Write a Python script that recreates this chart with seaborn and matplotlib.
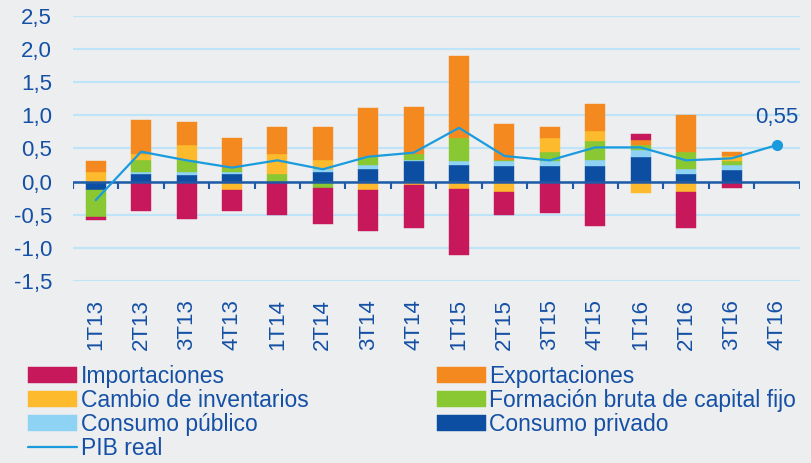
import numpy as np
import pandas as pd
import matplotlib.pyplot as plt
import seaborn as sns

# Trimestres (eje x) y contribuciones al crecimiento del PIB (pp)
trimestres = ["1T13", "2T13", "3T13", "4T13", "1T14", "2T14", "3T14", "4T14",
              "1T15", "2T15", "3T15", "4T15", "1T16", "2T16", "3T16", "4T16"]

consumo_privado = [-0.125, 0.12, 0.095, 0.12, 0.0, 0.145, 0.195, 0.305,
                   0.255, 0.23, 0.23, 0.23, 0.365, 0.12, 0.175]
consumo_publico = [0.0, 0.025, 0.05, 0.025, 0.0, 0.045, 0.055, 0.02,
                   0.05, 0.075, 0.075, 0.10, 0.105, 0.075, 0.08]
formacion_bruta = [-0.41, 0.185, 0.175, 0.065, 0.115, -0.10, 0.12, 0.095,
                   0.355, 0.025, 0.14, 0.275, 0.08, 0.25, 0.055]
cambio_inventarios = [0.145, 0.085, 0.23, -0.125, 0.30, 0.14, -0.125, -0.05,
                      -0.105, -0.16, 0.215, 0.16, -0.18, -0.155, 0.08]
exportaciones = [0.16, 0.51, 0.345, 0.445, 0.405, 0.49, 0.745, 0.70,
                 1.24, 0.545, 0.16, 0.405, 0.08, 0.565, 0.05]
importaciones = [-0.05, -0.45, -0.56, -0.325, -0.505, -0.54, -0.62, -0.645,
                 -1.0, -0.345, -0.475, -0.67, 0.08, -0.545, -0.10]

pib_real = [-0.28, 0.45, 0.32, 0.21, 0.32, 0.185, 0.375, 0.435,
            0.81, 0.385, 0.32, 0.515, 0.515, 0.32, 0.35, 0.55]

# orden de apilado (desde el cero hacia fuera)
componentes = [
    ("Consumo privado", consumo_privado, "#0B4EA2"),
    ("Consumo público", consumo_publico, "#8ED3F3"),
    ("Formación bruta de capital fijo", formacion_bruta, "#8AC833"),
    ("Cambio de inventarios", cambio_inventarios, "#FDBA2C"),
    ("Exportaciones", exportaciones, "#F48A1F"),
    ("Importaciones", importaciones, "#C8185C"),
]

azul_texto = "#1550A5"
sns.set_theme(style="white", rc={"axes.facecolor": "#ECEEF0", "figure.facecolor": "#ECEEF0"})
plt.rcParams["font.family"] = ["Liberation Sans", "DejaVu Sans"]

fig = plt.figure(figsize=(8.11, 4.63), dpi=100)
ax = fig.add_axes([0.090, 0.393, 0.896, 0.573])

x = np.arange(len(consumo_privado))
base_pos = np.zeros(len(x))
base_neg = np.zeros(len(x))
handles = {}
for nombre, valores, color in componentes:
    v = np.array(valores)
    bottom = np.where(v >= 0, base_pos, base_neg)
    h = ax.bar(x, v, width=0.44, bottom=bottom, color=color, edgecolor=color,
               linewidth=0.3, zorder=3, label=nombre)
    handles[nombre] = h
    base_pos = base_pos + np.where(v >= 0, v, 0)
    base_neg = base_neg + np.where(v < 0, v, 0)

df_pib = pd.DataFrame({"pos": np.arange(len(trimestres)), "pib": pib_real})
sns.lineplot(data=df_pib, x="pos", y="pib", ax=ax, color="#1A9BDD", lw=1.6,
             zorder=5, label="PIB real")
linea = ax.get_lines()[-1]
ax.plot(df_pib["pos"].iloc[-1], df_pib["pib"].iloc[-1], "o", color="#1A9BDD",
        ms=7, zorder=6)
ax.annotate(f"{pib_real[-1]:.2f}".replace(".", ","),
            (df_pib["pos"].iloc[-1], df_pib["pib"].iloc[-1]),
            xytext=(0, 12), textcoords="offset points", ha="center", va="bottom",
            fontsize=16, color=azul_texto)

# eje y
ax.set_ylim(-1.5, 2.5)
ax.set_xlim(-0.5, len(trimestres) - 0.5)
yt = np.arange(-1.5, 2.51, 0.5)
ax.set_yticks(yt)
ax.set_yticklabels([f"{t:.1f}".replace(".", ",") for t in yt])
ax.yaxis.grid(True, color="#BDE4F8", lw=1.5, zorder=0)
ax.xaxis.grid(False)
ax.set_axisbelow(True)

# linea de cero con marcas entre trimestres
ax.axhline(0, color="#1F5AA6", lw=1.8, zorder=4)
ax.vlines(np.arange(-0.5, len(trimestres)), -0.115, 0, color="#1F5AA6", lw=1.5,
          zorder=4)

ax.set_xticks(np.arange(len(trimestres)))
ax.set_xticklabels(trimestres, rotation=90)
ax.tick_params(axis="x", length=0, pad=13, labelsize=16, labelcolor=azul_texto)
ax.tick_params(axis="y", length=0, pad=15, labelsize=16, labelcolor=azul_texto)
ax.set_xlabel("")
ax.set_ylabel("")
for s in ax.spines.values():
    s.set_visible(False)

if ax.get_legend():
    ax.get_legend().remove()
orden = ["Importaciones", "Cambio de inventarios", "Consumo público"]
orden2 = ["Exportaciones", "Formación bruta de capital fijo", "Consumo privado"]
hs = [handles[n] for n in orden] + [linea] + [handles[n] for n in orden2]
ls = orden + ["PIB real"] + orden2
fig.legend(hs, ls, loc="upper left", bbox_to_anchor=(28 / 811, 1 - 365 / 463),
           ncol=2, frameon=False, fontsize=16.5, labelcolor=azul_texto,
           handlelength=2.15, handleheight=0.7, handletextpad=0.15,
           labelspacing=0.04, columnspacing=5.6, borderpad=0, borderaxespad=0)

fig.savefig("out.png", dpi=100)
